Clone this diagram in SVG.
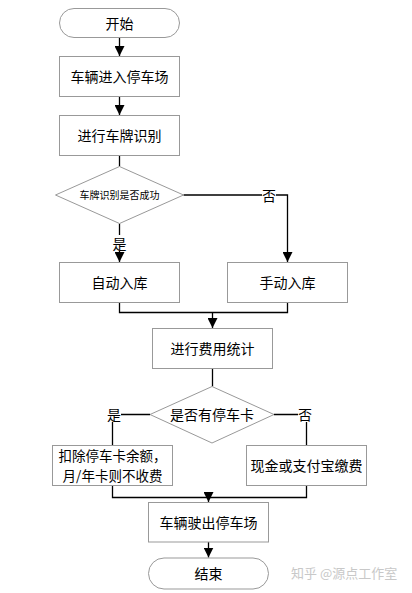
<svg xmlns="http://www.w3.org/2000/svg" width="412" height="593" viewBox="0 0 412 593">
<defs>
<marker id="ah" viewBox="0 0 10 10" refX="10" refY="5" markerWidth="10" markerHeight="10" markerUnits="userSpaceOnUse" orient="auto">
<path d="M0,0 L10,5 L0,10 Z" fill="#000"/>
</marker>
<style>
.n{fill:#fff;stroke:#999;stroke-width:1}
.t{font-family:"Noto Sans CJK SC","Noto Sans",sans-serif;font-size:14px;fill:#000;text-anchor:middle;dominant-baseline:central}
.s{font-size:10px}
.m{font-size:13.5px}
.c{fill:none;stroke:#000;stroke-width:1.3}
.a{marker-end:url(#ah)}
.lb{fill:#fff;stroke:none}
.wm{font-family:"Noto Sans CJK SC",sans-serif;font-size:13px;fill:#c8c8c8;dominant-baseline:central}
</style>
</defs>
<rect width="412" height="593" fill="#fff"/>
<g id="connectors">
<path class="c a" d="M119.5,37.5 V56"/>
<path class="c a" d="M119.5,96.5 V115"/>
<path class="c" d="M119.5,155.5 V166.5"/>
<path class="c a" d="M119.5,223.5 V262"/>
<path class="c a" d="M183.5,195 H287.5 V262"/>
<path class="c" d="M119.5,302.5 V312.5 H287.5 V302.5"/>
<path class="c a" d="M212.5,312.5 V328"/>
<path class="c" d="M212.5,368 V386.5"/>
<path class="c" d="M150,414.5 H112.5 V445.5"/>
<path class="c" d="M274,414.5 H306.5 V445.5"/>
<path class="c" d="M112.5,485 V497.5 H306.5 V485"/>
<path class="c a" d="M208.5,497.5 V502"/>
<path class="c a" d="M208.5,542 V557.5"/>
<rect class="lb" x="262" y="187" width="14" height="16"/>
<text class="t" x="269" y="194.5">否</text>
<rect class="lb" x="112" y="235" width="15" height="16"/>
<text class="t" x="119.5" y="242.5">是</text>
<rect class="lb" x="106" y="406" width="15" height="16"/>
<text class="t" x="114" y="413.5">是</text>
<rect class="lb" x="298" y="406" width="15" height="16"/>
<text class="t" x="305" y="413.5">否</text>
</g>
<g id="start">
<rect class="n" x="59.5" y="8.5" width="120" height="29" rx="14.5" ry="14.5"/>
<text class="t" x="119.5" y="22.5">开始</text>
</g>
<g id="enter">
<rect class="n" x="59.5" y="56.5" width="120" height="40"/>
<text class="t" x="119.5" y="76">车辆进入停车场</text>
</g>
<g id="recognize">
<rect class="n" x="59.5" y="115.5" width="120" height="40"/>
<text class="t" x="119.5" y="135">进行车牌识别</text>
</g>
<g id="decision1">
<polygon class="n" points="119.5,166.5 183.5,195 119.5,223.5 55.5,195"/>
<text class="t s" x="119.5" y="194.5">车牌识别是否成功</text>
</g>
<g id="auto">
<rect class="n" x="59.5" y="262.5" width="120" height="40"/>
<text class="t" x="119.5" y="282">自动入库</text>
</g>
<g id="manual">
<rect class="n" x="227.5" y="262.5" width="120" height="40"/>
<text class="t" x="287.5" y="282">手动入库</text>
</g>
<g id="fee">
<rect class="n" x="152.5" y="328.5" width="120" height="40"/>
<text class="t" x="212.5" y="348">进行费用统计</text>
</g>
<g id="decision2">
<polygon class="n" points="212,386.5 274,414.5 212,443 150,414.5"/>
<text class="t" x="212" y="414">是否有停车卡</text>
</g>
<g id="card">
<rect class="n" x="52.5" y="445.5" width="120" height="40"/>
<text class="t m" x="112.5" y="455">扣除停车卡余额，</text>
<text class="t m" x="112.5" y="474.5">月/年卡则不收费</text>
</g>
<g id="cash">
<rect class="n" x="246.5" y="445.5" width="120" height="40"/>
<text class="t" x="306.5" y="465">现金或支付宝缴费</text>
</g>
<g id="exit">
<rect class="n" x="148.5" y="502.5" width="120" height="39.5"/>
<text class="t" x="208.5" y="522">车辆驶出停车场</text>
</g>
<g id="end">
<rect class="n" x="148.5" y="558" width="120" height="31" rx="15.5" ry="15.5"/>
<text class="t" x="208.5" y="573">结束</text>
</g>
<text class="wm" x="291" y="572">知乎 @源点工作室</text>
</svg>
